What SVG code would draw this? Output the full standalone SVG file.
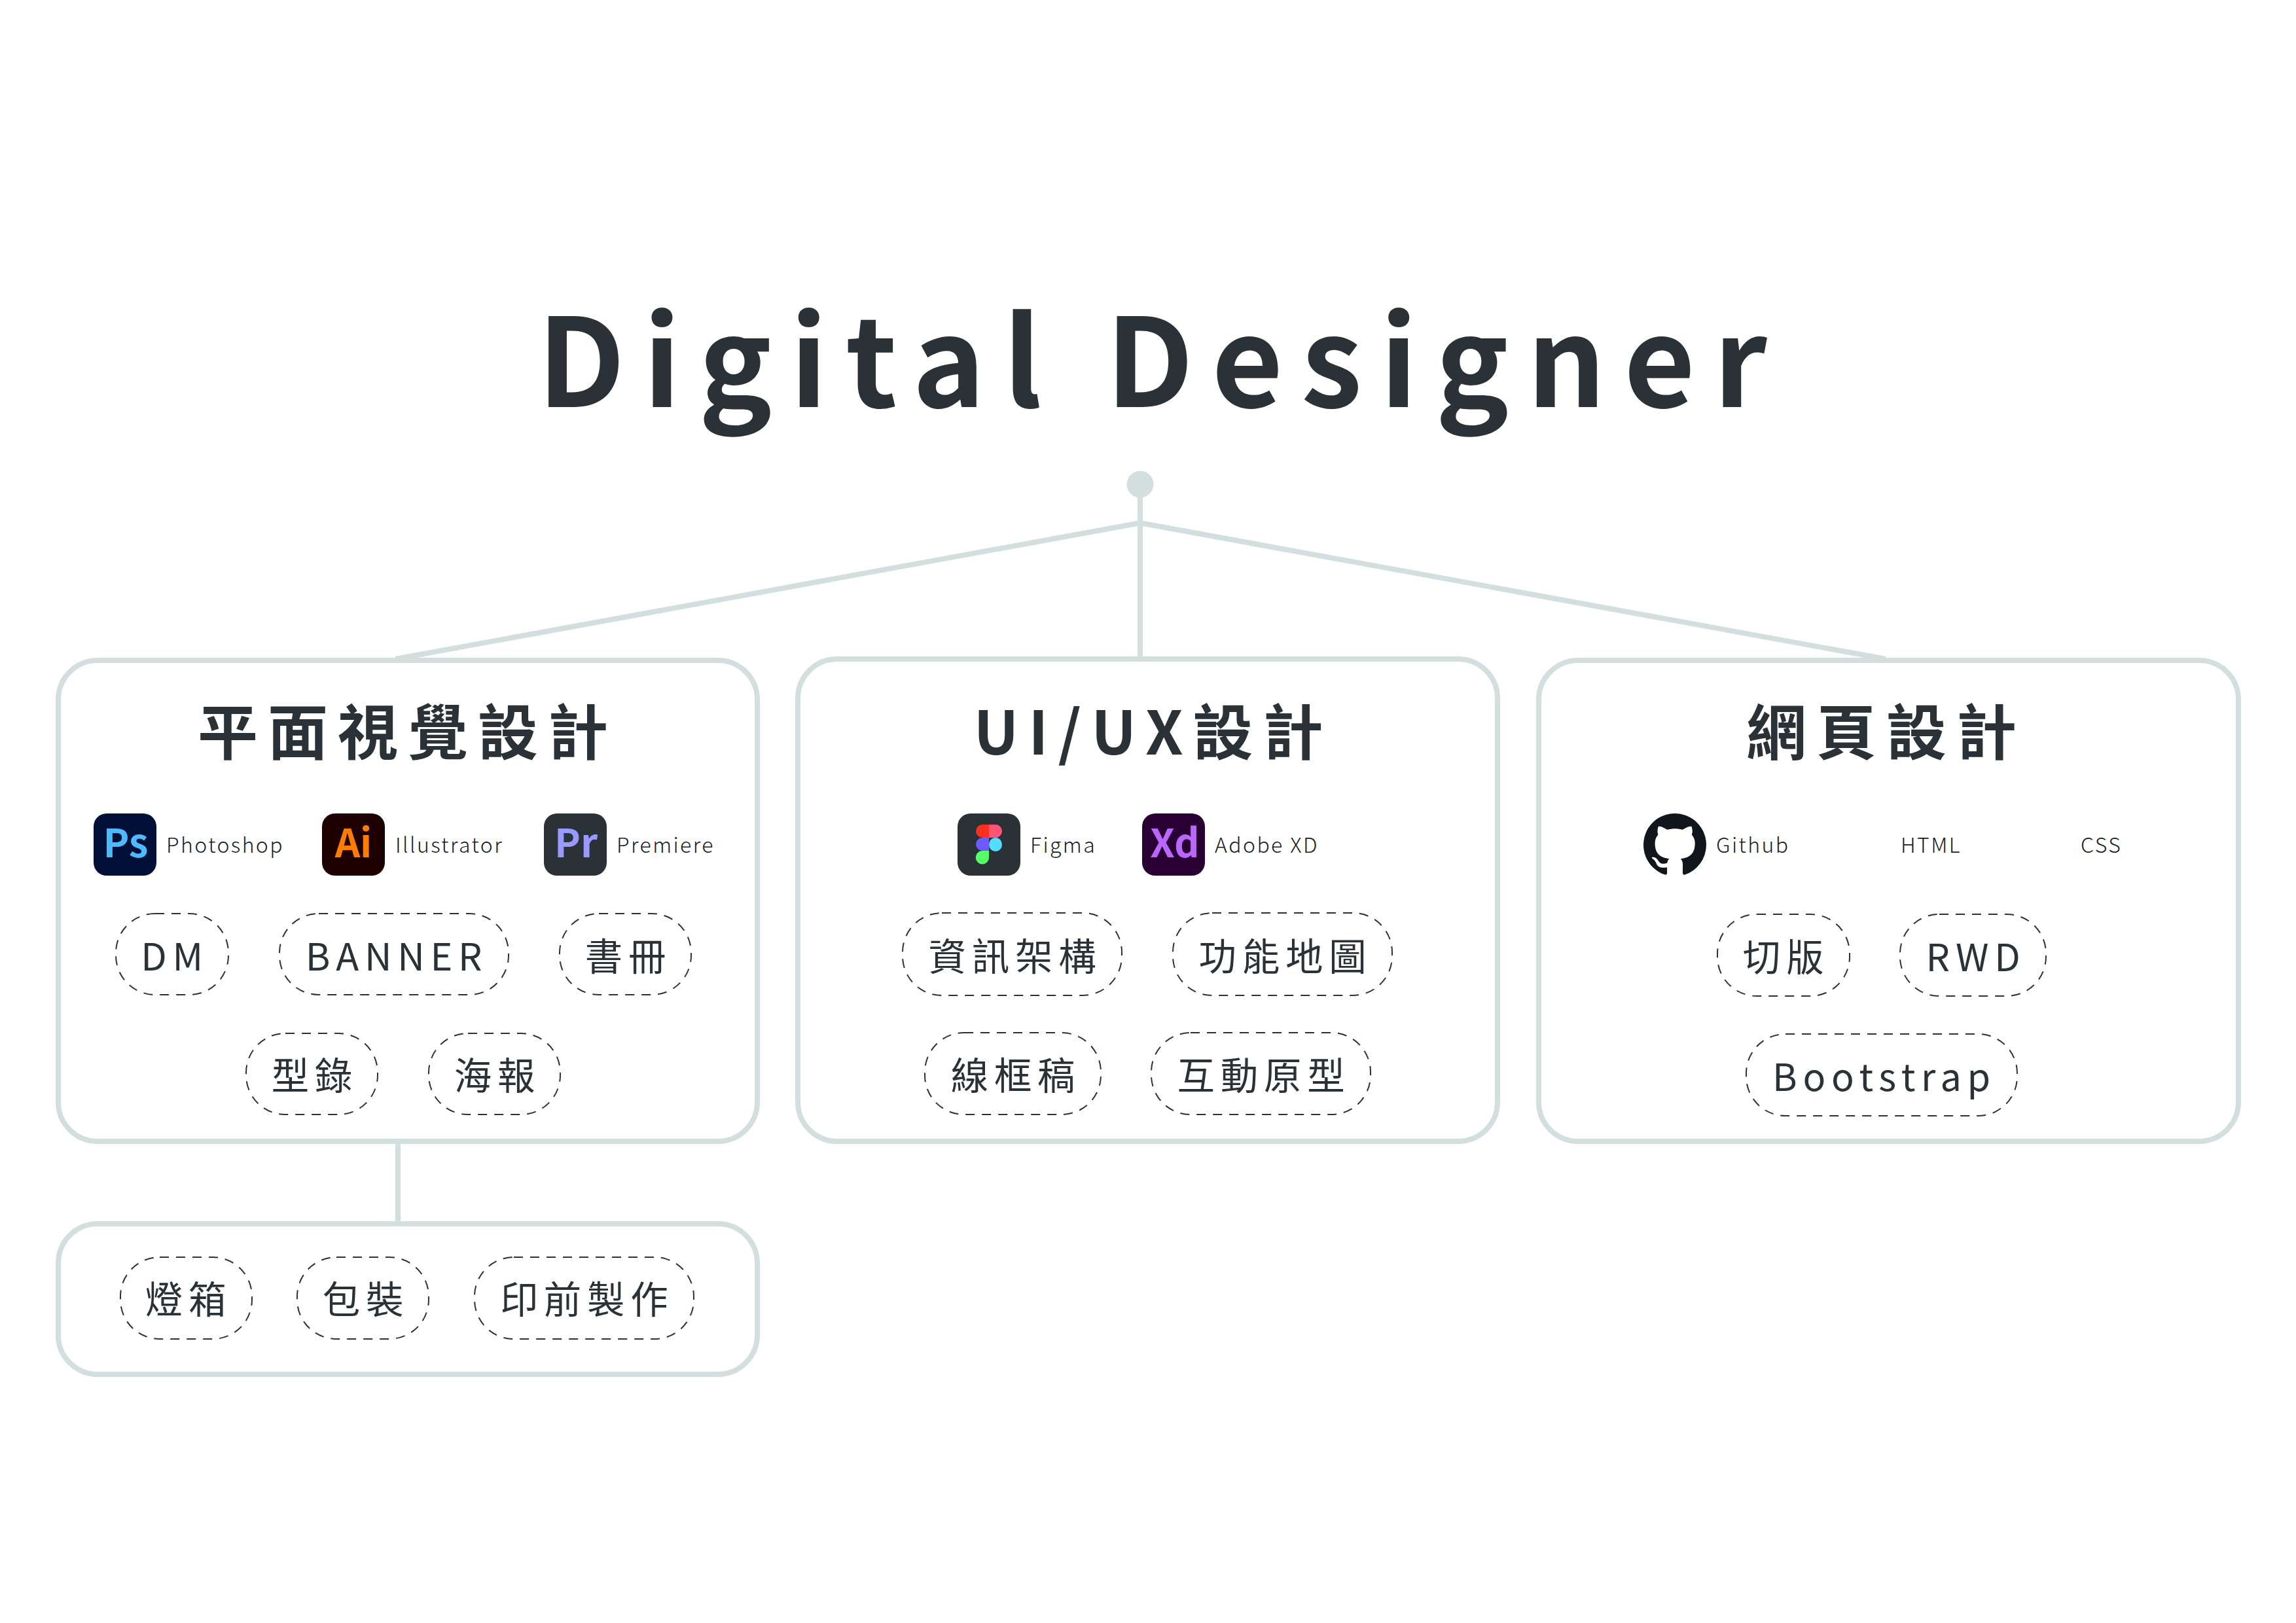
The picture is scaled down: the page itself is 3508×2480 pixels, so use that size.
<svg xmlns="http://www.w3.org/2000/svg" width="3508" height="2480" viewBox="0 0 3508 2480">
<style>
text{font-family:"Noto Sans CJK TC","Noto Sans",sans-serif;fill:#2b3237}
.title{font-size:188px;font-weight:700;letter-spacing:27.500px}
.head{font-size:92px;font-weight:700;letter-spacing:15px;text-anchor:middle}
.pt{font-size:57.500px;font-weight:400;letter-spacing:8.700px;text-anchor:middle}
.sm{font-size:32px;font-weight:300;letter-spacing:2.400px;fill:#171d21}
.logo{font-size:60px;font-weight:700;text-anchor:middle}
.box{fill:#fff;stroke:#d3dede;stroke-width:8}
.pill{fill:none;stroke:#2b3237;stroke-width:2;stroke-dasharray:14 11}
.con{fill:none;stroke:#d3dede;stroke-width:8}
</style>
<rect width="3508" height="2480" fill="#fff"/>
<text id="title" class="title" x="821" y="622">Digital Designer</text>
<g id="connectors">
<circle cx="1742" cy="740" r="20.500" fill="#d3dede"/>
<path class="con" d="M1742 740V1006"/>
<path class="con" d="M604 1007L1742 799L2881 1007"/>
<path class="con" d="M608 1744V1870"/>
</g>
<g id="box-graphic">
<rect class="box" x="89" y="1009" width="1068" height="735" rx="60"/>
<text class="head" x="623" y="1153">平面視覺設計</text>
<g id="icon-ps"><rect x="143" y="1243" width="96" height="95" rx="20" fill="#001036"/><text class="logo" x="192" y="1310" style="fill:#4dbaff">Ps</text></g>
<text class="sm" x="254" y="1303">Photoshop</text>
<g id="icon-ai"><rect x="492" y="1243" width="96" height="95" rx="20" fill="#1e0000"/><text class="logo" x="540" y="1310" style="fill:#ff7c00">Ai</text></g>
<text class="sm" x="604" y="1303">Illustrator</text>
<g id="icon-pr"><rect x="831" y="1243" width="96" height="95" rx="20" fill="#2b3237"/><text class="logo" x="880" y="1310" style="fill:#9999ff">Pr</text></g>
<text class="sm" x="942" y="1303">Premiere</text>
<g id="pill-dm"><rect class="pill" x="177" y="1396" width="172" height="124" rx="60"/><text class="pt" x="267" y="1483">DM</text></g>
<g id="pill-banner"><rect class="pill" x="427" y="1396" width="350" height="124" rx="60"/><text class="pt" x="606" y="1483">BANNER</text></g>
<g id="pill-book"><rect class="pill" x="855" y="1396" width="201" height="124" rx="60"/><text class="pt" x="960" y="1483">書冊</text></g>
<g id="pill-catalog"><rect class="pill" x="376" y="1579" width="201" height="124" rx="60"/><text class="pt" x="481" y="1665">型錄</text></g>
<g id="pill-poster"><rect class="pill" x="655" y="1579" width="201" height="124" rx="60"/><text class="pt" x="760" y="1665">海報</text></g>
</g>
<g id="box-uiux">
<rect class="box" x="1219" y="1007" width="1069" height="737" rx="60"/>
<text class="head" x="1762" y="1153">UI/UX設計</text>
<g id="icon-figma"><rect x="1463" y="1243" width="96" height="95" rx="20" fill="#2b3237"/>
<path d="M1511 1260h-10a10 10 0 0 0 0 20h10z" fill="#ff2f1f"/>
<path d="M1511 1260h10a10 10 0 0 1 0 20h-10z" fill="#ff5577"/>
<path d="M1511 1280h-10a10 10 0 0 0 0 20h10z" fill="#6c5cff"/>
<ellipse cx="1521" cy="1290.500" rx="10" ry="10.500" fill="#55ddff"/>
<path d="M1511 1300h-10a10 10 0 0 0 0 20.500a10 10 0 0 0 10 -10z" fill="#55ff66"/></g>
<text class="sm" x="1574" y="1303">Figma</text>
<g id="icon-xd"><rect x="1745" y="1243" width="96" height="95" rx="20" fill="#2a0034"/><text class="logo" x="1795" y="1310" style="fill:#b967ff">Xd</text></g>
<text class="sm" x="1856" y="1303">Adobe XD</text>
<g id="pill-ia"><rect class="pill" x="1379" y="1395" width="335" height="126" rx="60"/><text class="pt" x="1551" y="1483">資訊架構</text></g>
<g id="pill-map"><rect class="pill" x="1792" y="1395" width="335" height="126" rx="60"/><text class="pt" x="1964" y="1483">功能地圖</text></g>
<g id="pill-wire"><rect class="pill" x="1413" y="1578" width="269" height="125" rx="60"/><text class="pt" x="1552" y="1665">線框稿</text></g>
<g id="pill-proto"><rect class="pill" x="1759" y="1578" width="335" height="125" rx="60"/><text class="pt" x="1931" y="1665">互動原型</text></g>
</g>
<g id="box-web">
<rect class="box" x="2351" y="1009" width="1069" height="735" rx="60"/>
<text class="head" x="2882" y="1153">網頁設計</text>
<g id="icon-github"><path transform="translate(2511 1243) scale(6)" fill="#10161c" d="M8 0C3.58 0 0 3.58 0 8c0 3.54 2.29 6.53 5.47 7.59.4.07.55-.17.55-.38 0-.19-.01-.82-.01-1.49-2.01.37-2.53-.49-2.69-.94-.09-.23-.48-.94-.82-1.13-.28-.15-.68-.52-.01-.53.63-.01 1.08.58 1.23.82.72 1.21 1.87.87 2.33.66.07-.52.28-.87.51-1.07-1.78-.2-3.64-.89-3.64-3.95 0-.87.31-1.59.82-2.15-.08-.2-.36-1.02.08-2.12 0 0 .67-.21 2.2.82.64-.18 1.32-.27 2-.27.68 0 1.36.09 2 .27 1.53-1.04 2.2-.82 2.2-.82.44 1.1.16 1.92.08 2.12.51.56.82 1.27.82 2.15 0 3.07-1.87 3.75-3.65 3.95.29.25.54.73.54 1.48 0 1.07-.01 1.93-.01 2.2 0 .21.15.46.55.38A8.013 8.013 0 0016 8c0-4.42-3.58-8-8-8z"/></g>
<text class="sm" x="2622" y="1303">Github</text>
<text class="sm" x="2904" y="1303">HTML</text>
<text class="sm" x="3179" y="1303">CSS</text>
<g id="pill-cut"><rect class="pill" x="2624" y="1397" width="202" height="125" rx="60"/><text class="pt" x="2729" y="1484">切版</text></g>
<g id="pill-rwd"><rect class="pill" x="2903" y="1397" width="223" height="125" rx="60"/><text class="pt" x="3019" y="1484">RWD</text></g>
<g id="pill-bootstrap"><rect class="pill" x="2668" y="1580" width="414" height="125" rx="60"/><text class="pt" x="2879" y="1667">Bootstrap</text></g>
</g>
<g id="box-print">
<rect class="box" x="89" y="1870" width="1068" height="230" rx="60"/>
<g id="pill-light"><rect class="pill" x="184" y="1921" width="201" height="125" rx="60"/><text class="pt" x="288" y="2007">燈箱</text></g>
<g id="pill-pack"><rect class="pill" x="454" y="1921" width="201" height="125" rx="60"/><text class="pt" x="559" y="2007">包裝</text></g>
<g id="pill-prepress"><rect class="pill" x="725" y="1921" width="335" height="125" rx="60"/><text class="pt" x="897" y="2007">印前製作</text></g>
</g>
</svg>
